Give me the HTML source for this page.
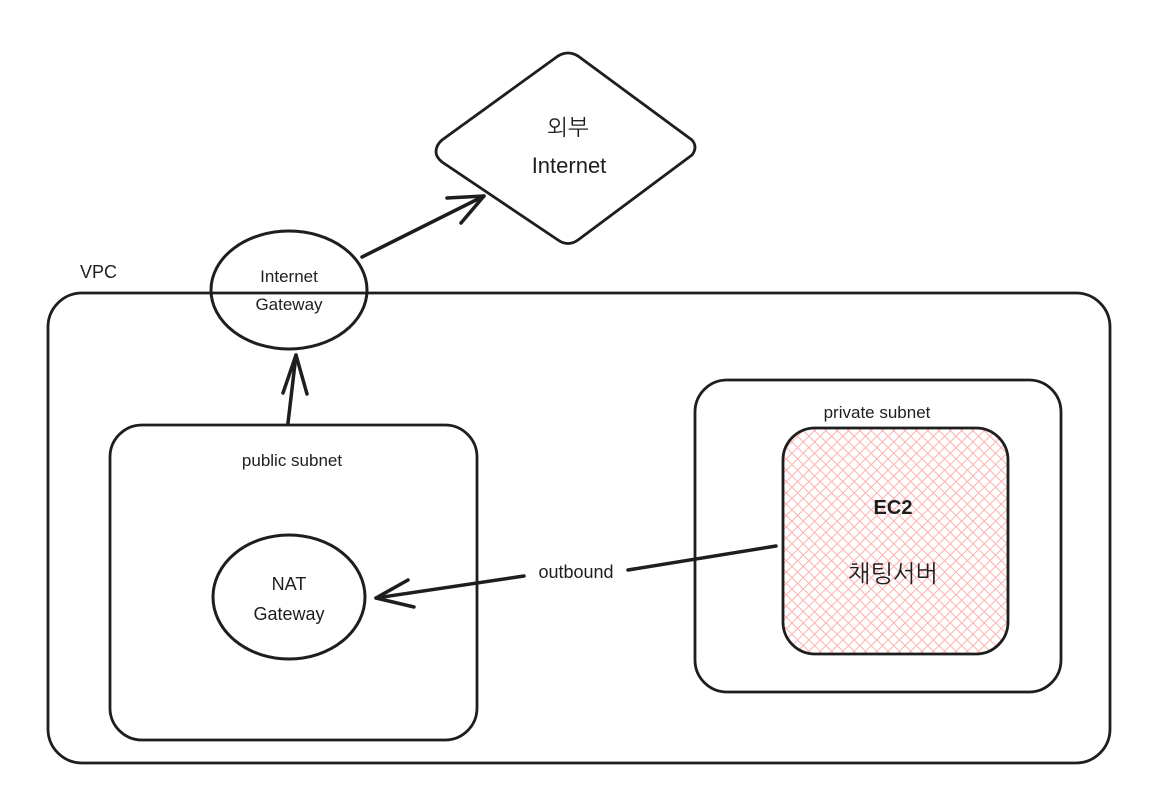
<!DOCTYPE html>
<html><head><meta charset="utf-8"><style>
html,body{margin:0;padding:0;background:#fff;}
svg{display:block}
text{font-family:"Liberation Sans","NanumGothic","Noto Sans CJK KR",sans-serif;fill:#1e1e1e}
</style></head><body>
<svg width="1168" height="811" viewBox="0 0 1168 811" xmlns="http://www.w3.org/2000/svg">
<defs>
<pattern id="h" width="8" height="8" patternUnits="userSpaceOnUse" patternTransform="rotate(45)">
<rect width="8" height="8" fill="#fff"/>
<line x1="0" y1="0" x2="0" y2="8" stroke="#ffb0b0" stroke-width="2"/>
<line x1="0" y1="0" x2="8" y2="0" stroke="#ffb0b0" stroke-width="2"/>
</pattern>
</defs>
<g fill="none" stroke="#1e1e1e" stroke-width="2.8" stroke-linecap="round" stroke-linejoin="round">
<rect x="48" y="293" width="1062" height="470" rx="34"/>
<rect x="110" y="425" width="367" height="315" rx="32"/>
<rect x="695" y="380" width="366" height="312" rx="32"/>
<rect x="783" y="428" width="225" height="226" rx="32" fill="url(#h)"/>
<path d="M436 152 Q436 145 442 140 L558 56 Q568 50 578 56 L692 140 Q698 147 692 155 L578 240 Q568 247 558 240 L442 162 Q436 157 436 152Z" fill="#fff"/>
<ellipse cx="289" cy="290" rx="78" ry="59" stroke-width="3"/>
<ellipse cx="289" cy="597" rx="76" ry="62" stroke-width="3"/>
<path d="M288 423 L296 355" stroke-width="3.5"/>
<path d="M283 393 L296 355 L307 394" stroke-width="3.5"/>
<path d="M362 257 L484 196" stroke-width="3.5"/>
<path d="M447 198 L484 196 L461 223" stroke-width="3.5"/>
<path d="M776 546 L628 570 M524 576 L376 598" stroke-width="3.5"/>
<path d="M408 580 L376 598 L414 607" stroke-width="3.5"/>
</g>
<text x="80" y="278" font-size="18">VPC</text>
<text x="568" y="135" font-size="22" text-anchor="middle">외부</text>
<text x="569" y="173" font-size="22" text-anchor="middle">Internet</text>
<text x="289" y="282" font-size="17" text-anchor="middle">Internet</text>
<text x="289" y="310" font-size="17" text-anchor="middle">Gateway</text>
<text x="292" y="466" font-size="17" text-anchor="middle">public subnet</text>
<text x="877" y="418" font-size="17" text-anchor="middle">private subnet</text>
<text x="289" y="590" font-size="18" text-anchor="middle">NAT</text>
<text x="289" y="620" font-size="18" text-anchor="middle">Gateway</text>
<text x="576" y="578" font-size="18" text-anchor="middle">outbound</text>
<text x="893" y="514" font-size="20" font-weight="bold" text-anchor="middle">EC2</text>
<text x="893" y="582" font-size="24" text-anchor="middle">채팅서버</text>
</svg>
</body></html>
